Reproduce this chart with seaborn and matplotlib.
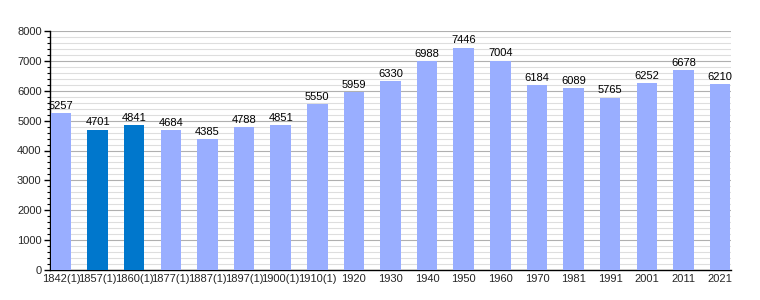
import matplotlib
matplotlib.use("Agg")
import matplotlib.pyplot as plt
import seaborn as sns
import pandas as pd
from matplotlib.ticker import MultipleLocator

years = ["1842(1)", "1857(1)", "1860(1)", "1877(1)", "1887(1)", "1897(1)", "1900(1)", "1910(1)",
         "1920", "1930", "1940", "1950", "1960", "1970", "1981", "1991", "2001", "2011", "2021"]
population = [5257, 4701, 4841, 4684, 4385, 4788, 4851, 5550, 5959, 6330, 6988, 7446, 7004,
              6184, 6089, 5765, 6252, 6678, 6210]
highlight = ["1857(1)", "1860(1)"]

df = pd.DataFrame({"year": years, "pop": population})
light = "#99aeff"
dark = "#0077cc"
palette = {y: (dark if y in highlight else light) for y in years}

sns.set_style("white")
plt.rcParams['font.family'] = ['Liberation Sans', 'DejaVu Sans']
fig = plt.figure(figsize=(7.6, 3.0), dpi=100)
ax = fig.add_axes([50/760, 1-270/300, 681/760, 239/300])

sns.barplot(data=df, x="year", y="pop", hue="year", palette=palette, legend=False,
            width=0.56, saturation=1, linewidth=0, ax=ax, zorder=3)

ax.set_ylim(0, 8000)
ax.set_xlim(-0.3, len(years) - 1 + 0.3)
ax.yaxis.set_major_locator(MultipleLocator(1000))
ax.yaxis.set_minor_locator(MultipleLocator(200))
ax.grid(which="major", axis="y", color="#b0b0b0", linewidth=0.8, zorder=0)
ax.grid(which="minor", axis="y", color="#dedede", linewidth=0.8, zorder=0)
ax.set_axisbelow(True)
for s in ["top", "right"]:
    ax.spines[s].set_visible(False)
for s in ["left", "bottom"]:
    ax.spines[s].set_color("black")
    ax.spines[s].set_linewidth(1)
ax.tick_params(axis="y", which="major", length=4, width=1, color="black", labelsize=8, pad=2, left=True)
ax.tick_params(axis="y", which="minor", length=2, width=0.8, color="black", left=True)
ax.tick_params(axis="x", length=0, labelsize=8, pad=3)
ax.set_xlabel("")
ax.set_ylabel("")

for i, v in enumerate(population):
    ax.text(i, v + 80, str(v), ha="center", va="bottom", fontsize=8, color="black")

fig.savefig("out.png", dpi=100)
